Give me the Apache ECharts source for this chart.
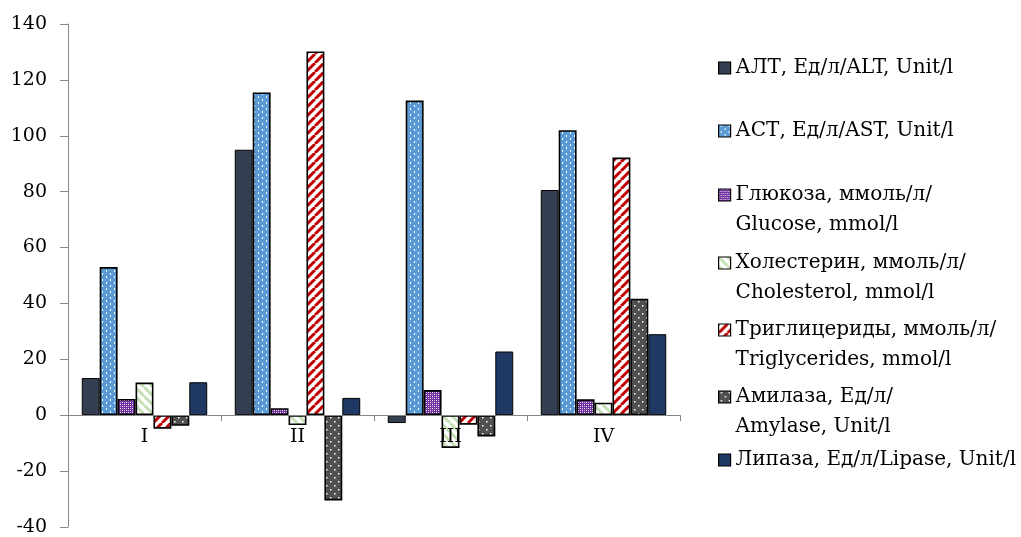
<!DOCTYPE html>
<html><head><meta charset="utf-8">
<script src="https://cdn.jsdelivr.net/npm/echarts/dist/echarts.min.js"></script>
<style>html,body{margin:0;padding:0;background:#fff}#c{width:1021px;height:537px}</style>
</head><body><div id="c"></div>
<script>
// ---- data ----
const categories = ['I', 'II', 'III', 'IV'];
const yTicks = [-40, 140, 20]; // min, max, interval
const seriesNames = [
  'АЛТ, Ед/л/ALT, Unit/l',
  'АСТ, Ед/л/AST, Unit/l',
  'Глюкоза, ммоль/л/\nGlucose, mmol/l',
  'Холестерин, ммоль/л/\nCholesterol, mmol/l',
  'Триглицериды, ммоль/л/\nTriglycerides, mmol/l',
  'Амилаза, Ед/л/\nAmylase, Unit/l',
  'Липаза, Ед/л/Lipase, Unit/l'
];
const alt = [13.3, 95, -2.8, 80.6];
const ast = [53, 115.5, 112.6, 102];
const glucose = [5.8, 2.5, 9, 5.7];
const cholesterol = [11.7, -3.5, -11.7, 4.5];
const triglycerides = [-4.8, 130.2, -3.4, 92.2];
const amylase = [-3.8, -30.5, -7.6, 41.7];
const lipase = [11.8, 6.2, 22.8, 29];
const values = [alt, ast, glucose, cholesterol, triglycerides, amylase, lipase];

// ---- styles ----
function makePattern(w, h, bg, draw) {
  const c = document.createElement('canvas');
  c.width = w; c.height = h;
  const g = c.getContext('2d');
  g.fillStyle = bg; g.fillRect(0, 0, w, h);
  draw(g, w, h);
  return { image: c, repeat: 'repeat' };
}
function stripes(s, color, lw, dir) {
  return function (g) {
    g.strokeStyle = color; g.lineWidth = lw;
    for (let k = -1; k <= 1; k++) {
      g.beginPath();
      if (dir === '/') { g.moveTo(k * s, s); g.lineTo(k * s + s, 0); }
      else { g.moveTo(k * s, 0); g.lineTo(k * s + s, s); }
      g.stroke();
    }
  };
}
const fills = [
  '#333F50',
  makePattern(8, 6, '#5B9BD5', g => { g.fillStyle = '#fff'; g.fillRect(2, 0, 1, 2); g.fillRect(6, 3, 1, 2); }),
  makePattern(4, 4, '#7030A0', g => { g.fillStyle = '#fff'; g.fillRect(0, 0, 1, 1); g.fillRect(2, 2, 1, 1); g.fillStyle = '#c9a8e0'; g.fillRect(2, 0, 1, 1); g.fillRect(0, 2, 1, 1); }),
  makePattern(9, 9, '#fff', stripes(9, '#C5E0B4', 3, '\\')),
  makePattern(9, 9, '#fff', stripes(9, '#C00000', 3, '/')),
  makePattern(8, 8, '#505050', g => { g.fillStyle = '#fff'; g.fillRect(2, 1, 1.5, 1.5); g.fillRect(6, 5, 1.5, 1.5); }),
  '#1F3864'
];
const borderWidths = [1, 1.6, 1.6, 1.6, 1.6, 1.6, 1];
const legendCenters = [68, 131, 195, 263, 330, 397, 460];
const FONT = 'DejaVu Serif';
const GRID = { left: 68, right: 341, top: 24, bottom: 10 };
const plotH = 537 - GRID.top - GRID.bottom;
const zeroOffset = -(0 - yTicks[0]) / (yTicks[1] - yTicks[0]) * plotH;

const chart = echarts.init(document.getElementById('c'));
chart.setOption({
  animation: false,
  backgroundColor: '#fff',
  grid: Object.assign({ containLabel: false, outerBoundsMode: 'none' }, GRID),
  xAxis: {
    type: 'category', data: categories,
    offset: zeroOffset, z: 5,
    axisLine: { onZero: false, lineStyle: { color: '#868686', width: 1 } },
    axisTick: { show: true, length: 6, lineStyle: { color: '#868686', width: 1 } },
    axisLabel: { fontFamily: FONT, fontSize: 19, color: '#000', margin: 12 }
  },
  yAxis: {
    type: 'value', min: yTicks[0], max: yTicks[1], interval: yTicks[2],
    splitLine: { show: false },
    axisLine: { show: true, onZero: false, lineStyle: { color: '#868686', width: 1 } },
    axisTick: { show: true, length: 8, lineStyle: { color: '#868686' } },
    axisLabel: { fontFamily: FONT, fontSize: 19, color: '#000', margin: 21 }
  },
  legend: seriesNames.map((n, i) => {
    const two = n.indexOf('\n') >= 0;
    return {
      data: [n], left: 718, top: legendCenters[i] - 15, padding: 0,
      orient: 'vertical', selectedMode: false,
      itemWidth: 12, itemHeight: two ? 42 : 12,
      icon: two ? 'path://M0,0L12,0L12,12L0,12Z M0,42L0,42' : 'rect',
      itemStyle: { borderColor: '#000', borderWidth: 1.2 },
      textStyle: { fontFamily: FONT, fontSize: 20, color: '#000', lineHeight: 30 }
    };
  }),
  series: seriesNames.map((n, i) => ({
    name: n, type: 'bar', data: values[i],
    barGap: '0%', barCategoryGap: '18%',
    itemStyle: { color: fills[i], borderColor: '#000', borderWidth: borderWidths[i] }
  }))
});
</script></body></html>
